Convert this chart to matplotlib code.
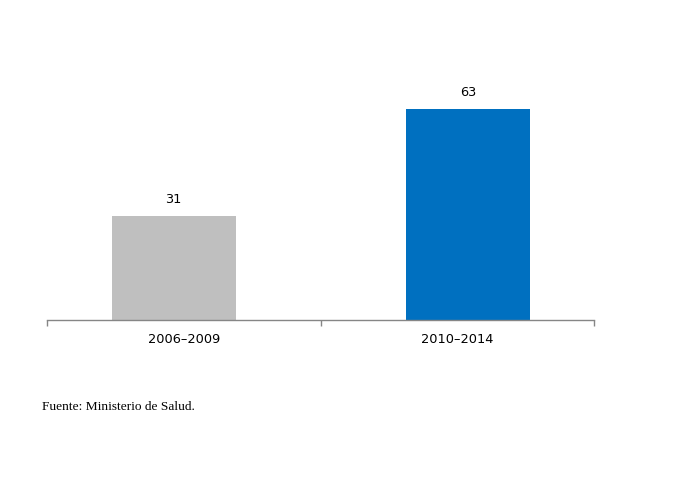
import matplotlib
matplotlib.use("Agg")
import matplotlib.pyplot as plt

categories = ["2006\u20132009", "2010\u20132014"]
values = [31, 63]
value_labels = ["31", "63"]
source = "Fuente: Ministerio de Salud."

colors = ["#BFBFBF", "#0070C0"]
offsets = [-0.037, 0.04]
bar_width = 0.453

fig = plt.figure(figsize=(6.74, 4.81), dpi=100)
ax_left = 47 / 674
ax_right = 594 / 674
ax_bottom = (481 - 320.5) / 481
ymax = 80
px_per_unit = 210.5 / 63
ax_height = ymax * px_per_unit / 481
ax = fig.add_axes([ax_left, ax_bottom, ax_right - ax_left, ax_height])

xs = [i + o for i, o in enumerate(offsets)]
bars = ax.bar(xs, values, width=bar_width, color=colors, zorder=2)
for b, lab in zip(bars, value_labels):
    ax.annotate(lab, (b.get_x() + b.get_width() / 2, b.get_height()),
                xytext=(0, 8), textcoords="offset points",
                ha="center", va="bottom", fontsize=9.3, color="#000000",
                family="DejaVu Sans")

ax.set_xlim(-0.5, 1.5)
ax.set_ylim(0, ymax)
for s in ["top", "right", "left"]:
    ax.spines[s].set_visible(False)
ax.spines["bottom"].set_color("#868686")
ax.spines["bottom"].set_linewidth(1)
ax.set_yticks([])
ax.set_xticks(range(len(categories)))
ax.set_xticklabels(categories, fontsize=9.3, family="DejaVu Sans")
ax.tick_params(axis="x", which="major", length=0, pad=9)
ax.set_xticks([-0.5, 0.5, 1.5], minor=True)
ax.tick_params(axis="x", which="minor", length=4.5, color="#868686", width=1)

fig.text(42 / 674, 1 - 410 / 481, source, fontsize=9.6, family="Liberation Serif",
         ha="left", va="baseline")

fig.savefig("out.png", dpi=100)
